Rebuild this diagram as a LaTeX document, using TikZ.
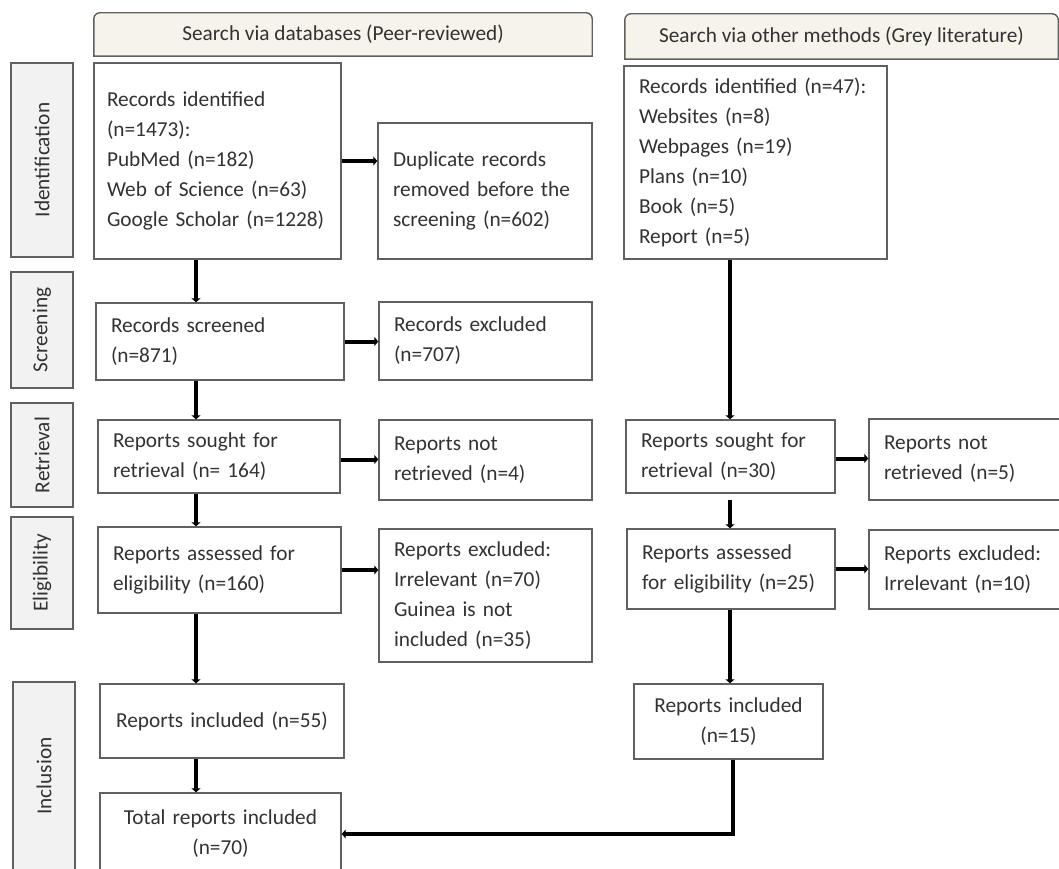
\documentclass[tikz,border=0pt]{standalone}
\usepackage{fontspec}
\setmainfont{Carlito}
\usepackage{xcolor}
\usepackage{tikz}
\usetikzlibrary{arrows.meta,calc,backgrounds,positioning}

\definecolor{boxgray}{RGB}{96,96,96}
\definecolor{txtgray}{RGB}{50,50,50}
\definecolor{phasefill}{RGB}{242,242,242}
\definecolor{hdrfill}{RGB}{246,243,234}

\begin{document}
\begin{tikzpicture}[x=1pt,y=-1pt,
        box/.style={draw=boxgray,line width=1.4pt,inner xsep=15pt,inner ysep=0pt,
                    align=left,text=txtgray,font=\fontsize{21.3}{30}\selectfont},
        cbox/.style={box,align=center},
        phase/.style={draw=boxgray,fill=phasefill,line width=1.4pt,rotate=90,
                      text=txtgray,font=\fontsize{21.3}{30}\selectfont},
        hdr/.style={text=txtgray,font=\fontsize{21.3}{30}\selectfont},
        arr/.style={line width=4pt,-{Triangle[length=4pt,width=9pt]}}]
        \useasboundingbox (0,0) rectangle (1059,869);
        \clip (0,0) rectangle (1059,869);

        \node[hdr,minimum width=498pt,minimum height=43pt] (dbhead) at (343,34.5) {Search via databases (Peer-reviewed)};
        \node[hdr,minimum width=433pt,minimum height=45pt] (grhead) at (841.5,36.5) {Search via other methods (Grey literature)};
        \begin{scope}[on background layer]
            \filldraw[draw=boxgray,fill=hdrfill,line width=1.4pt] (dbhead.south west) [rounded corners=6pt] -- (dbhead.north west) -- (dbhead.north east) [sharp corners] -- (dbhead.south east) -- cycle;
            \filldraw[draw=boxgray,fill=hdrfill,line width=1.4pt] (grhead.south west) [rounded corners=6pt] -- (grhead.north west) -- (grhead.north east) [sharp corners] -- (grhead.south east) -- cycle;
        \end{scope}

        \node[phase,minimum width=194pt,minimum height=62pt] (ident) at (42,160) {Identification};
        \node[phase,minimum width=116pt,minimum height=62pt] (screen) at (42,330) {Screening};
        \node[phase,minimum width=104pt,minimum height=62pt] (retr) at (42,455) {Retrieval};
        \node[phase,minimum width=112pt,minimum height=62pt] (elig) at (42,573) {Eligibility};
        \node[phase,minimum width=188pt,minimum height=62pt] (incl) at (44,776) {Inclusion};

        \node[box,inner xsep=13pt,text width=221pt,minimum height=196pt] (db_rec) at (217.5,161) {Records identified\\(n=1473):\\PubMed (n=182)\\Web of Science (n=63)\\Google Scholar (n=1228)};
        \node[box,text width=184pt,minimum height=136pt] (db_dup) at (485,191) {Duplicate records\\removed before the\\screening (n=602)};
        \node[box,text width=218pt,minimum height=77pt] (db_scr) at (220,341.5) {Records screened\\(n=871)};
        \node[box,text width=183pt,minimum height=78pt] (db_exc) at (485.5,341) {Records excluded\\(n=707)};
        \node[box,text width=212pt,minimum height=73pt] (db_sought) at (219,456.5) {Reports sought for\\retrieval (n= 164)};
        \node[box,text width=183pt,minimum height=80pt] (db_notret) at (485.5,460) {Reports not\\retrieved (n=4)};
        \node[box,text width=213pt,minimum height=86pt] (db_assess) at (219.5,570) {Reports assessed for\\eligibility (n=160)};
        \node[box,text width=183pt,minimum height=133pt] (db_rexc) at (485.5,595.5) {Reports excluded:\\Irrelevant (n=70)\\Guinea is not\\included (n=35)};
        \node[cbox,text width=214pt,minimum height=74pt] (db_inc) at (222,721) {Reports included (n=55)};
        \node[cbox,text width=211pt,minimum height=82pt] (total) at (220.5,834) {Total reports included\\(n=70)};

        \node[box,text width=233pt,minimum height=193pt] (gr_rec) at (755.5,162.5) {Records identified (n=47):\\Websites (n=8)\\Webpages (n=19)\\Plans (n=10)\\Book (n=5)\\Report (n=5)};
        \node[box,text width=179pt,minimum height=73pt] (gr_sought) at (730.5,456.5) {Reports sought for\\retrieval (n=30)};
        \node[box,text width=176pt,minimum height=81pt] (gr_notret) at (972,459.5) {Reports not\\retrieved (n=5)};
        \node[box,text width=178pt,minimum height=80pt] (gr_assess) at (731,569) {Reports assessed\\for eligibility (n=25)};
        \node[box,text width=176pt,minimum height=79pt] (gr_rexc) at (972,569.5) {Reports excluded:\\Irrelevant (n=10)};
        \node[cbox,text width=159pt,minimum height=75pt] (gr_inc) at (728.5,721.5) {Reports included\\(n=15)};

        \coordinate (dbline) at (196,0);
        \coordinate (grline) at (730,0);

        \draw[arr] (db_rec.east) -- (db_rec.east -| db_dup.west);
        \draw[arr] (db_rec.south -| dbline) -- (db_scr.north -| dbline);
        \draw[arr] (db_scr.east) -- (db_scr.east -| db_exc.west);
        \draw[arr] (db_scr.south -| dbline) -- (db_sought.north -| dbline);
        \draw[arr] ([yshift=-3pt]db_sought.east) -- ([yshift=-3pt]db_sought.east -| db_notret.west);
        \draw[arr] (db_sought.south -| dbline) -- (db_assess.north -| dbline);
        \draw[arr] (db_assess.east) -- (db_assess.east -| db_rexc.west);
        \draw[arr] (db_assess.south -| dbline) -- (db_inc.north -| dbline);
        \draw[arr] (db_inc.south -| dbline) -- (total.north -| dbline);

        \draw[arr] (gr_rec.south -| grline) -- (gr_sought.north -| grline);
        \draw[arr] ([yshift=-2pt]gr_sought.east) -- ([yshift=-2pt]gr_sought.east -| gr_notret.west);
        \draw[arr,shorten <=6pt] (gr_sought.south -| grline) -- (gr_assess.north -| grline);
        \draw[arr] (gr_assess.east) -- (gr_assess.east -| gr_rexc.west);
        \draw[arr] (gr_assess.south -| grline) -- (gr_inc.north -| grline);
        \draw[arr] ([xshift=4pt]gr_inc.south) |- (total.east);
    \end{tikzpicture}
\end{document}
